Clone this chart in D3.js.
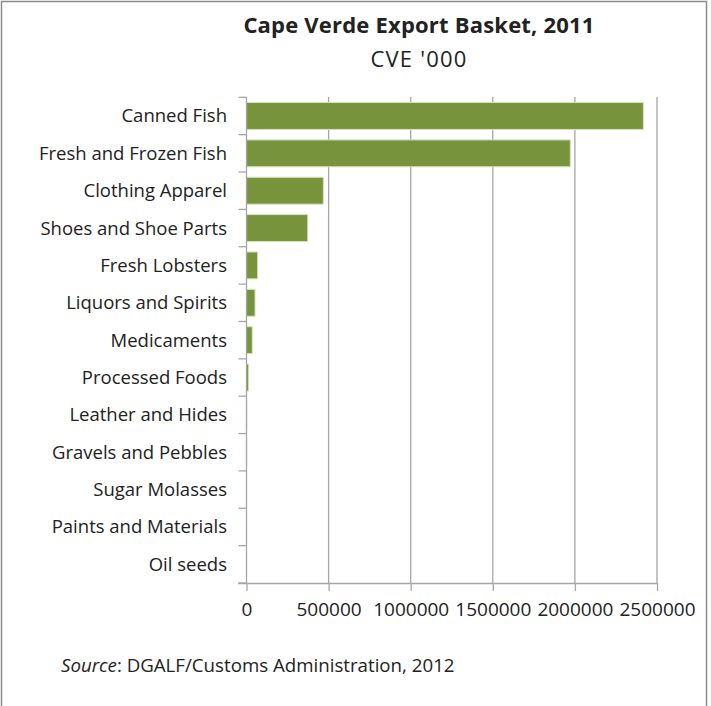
<!DOCTYPE html>
<html>
<head>
<meta charset="utf-8">
<script src="https://cdn.jsdelivr.net/npm/d3@7"></script>
<style>
  body { margin: 0; background: #fff; }
  svg { display: block; }
  text { font-family: "Open Sans", Lato, sans-serif; fill: #222; }
</style>
</head>
<body>
<svg id="chart" width="711" height="706"></svg>
<script>
const categories = [
  "Canned Fish", "Fresh and Frozen Fish", "Clothing Apparel ", "Shoes and Shoe Parts",
  "Fresh Lobsters", "Liquors and Spirits", "Medicaments", "Processed Foods",
  "Leather and Hides", "Gravels and Pebbles", "Sugar Molasses", "Paints and Materials", "Oil seeds"
];
const values = [2417000, 1972000, 468000, 373000, 68000, 52000, 35000, 13000, 1500, 1000, 600, 400, 200];
const xTicks = [0, 500000, 1000000, 1500000, 2000000, 2500000];
const title = "Cape Verde Export Basket, 2011";
const subtitle = "CVE '000";

const FONT = "\"Open Sans\", Lato, sans-serif";
const svg = d3.select("#chart");

// frame
svg.append("path")
  .attr("d", "M1.5,706 V1.5 H706.5 V706")
  .attr("fill", "none").attr("stroke", "#8c8c8c").attr("stroke-width", 1.5);

const x = d3.scaleLinear().domain([0, 2500000]).range([246.5, 657]);
const y = d3.scaleBand().domain(categories).range([97.3, 583]).paddingInner(0.28).paddingOuter(0.14);

// gridlines
svg.append("g").selectAll("line").data(xTicks.slice(1)).join("line")
  .attr("x1", d => x(d)).attr("x2", d => x(d))
  .attr("y1", 97).attr("y2", 583)
  .attr("stroke", "#a6a6a6").attr("stroke-width", 1.3);

// bars
svg.append("g").selectAll("rect").data(values).join("rect")
  .attr("x", x(0))
  .attr("y", (d, i) => y(categories[i]))
  .attr("width", d => x(d) - x(0))
  .attr("height", y.bandwidth())
  .attr("fill", "#77933c")
  .attr("stroke", "#d7e4bd").attr("stroke-width", 1);

// y axis line and ticks at band boundaries
const boundaries = categories.map(c => y(c) - y.step() * y.paddingInner() / 2).concat([y.range()[1]]);
svg.append("line").attr("x1", x(0)).attr("x2", x(0)).attr("y1", 97).attr("y2", 583)
  .attr("stroke", "#a6a6a6").attr("stroke-width", 1.3);
svg.append("g").selectAll("line").data(boundaries).join("line")
  .attr("x1", x(0) - 8).attr("x2", x(0)).attr("y1", d => d).attr("y2", d => d)
  .attr("stroke", "#a6a6a6").attr("stroke-width", 1.3);

// x axis
const xAxis = d3.axisBottom(x).tickValues(xTicks).tickSize(8).tickPadding(10).tickFormat(d3.format("d"));
const gx = svg.append("g").attr("transform", "translate(0,583)").call(xAxis);
gx.select(".domain").attr("d", "M238,0.5H657").attr("stroke", "#a6a6a6").attr("stroke-width", 1.3);
gx.selectAll(".tick line").attr("stroke", "#a6a6a6").attr("stroke-width", 1.3);
gx.selectAll(".tick text").attr("font-family", FONT).attr("font-size", 19)
  .attr("fill", "#222").attr("dy", "0.8em");

// category labels
svg.append("g").selectAll("text").data(categories).join("text")
  .attr("x", 227)
  .attr("y", d => y(d) + y.bandwidth() / 2)
  .attr("dy", "0.35em")
  .attr("text-anchor", "end")
  .attr("font-size", 18.5)
  .text(d => d);

// titles
svg.append("text").attr("x", 419).attr("y", 33).attr("text-anchor", "middle")
  .attr("font-size", 22).attr("letter-spacing", 0.2).attr("font-weight", "bold").attr("fill", "#111").text(title);
svg.append("text").attr("x", 419).attr("y", 67).attr("text-anchor", "middle")
  .attr("font-size", 22).attr("letter-spacing", 1.2).text(subtitle);

// source
const src = svg.append("text").attr("x", 61).attr("y", 672).attr("font-size", 18.7);
src.append("tspan").attr("font-style", "italic").text("Source");
src.append("tspan").text(": DGALF/Customs Administration, 2012");
</script>
</body>
</html>
